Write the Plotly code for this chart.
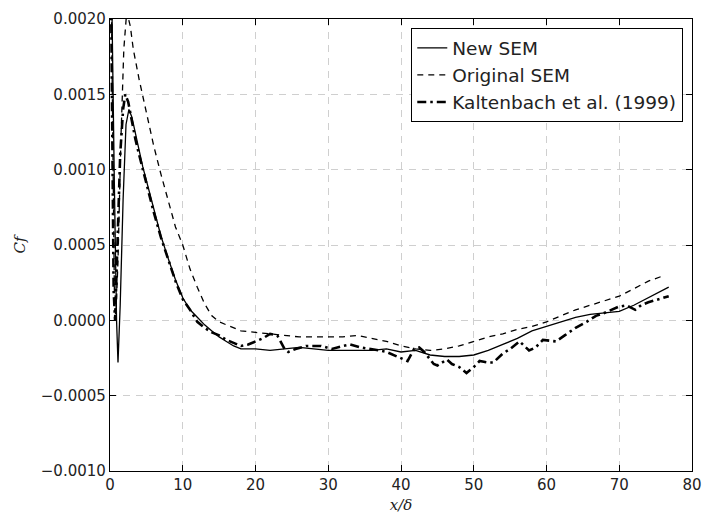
import plotly.graph_objects as go

# ---------------- data ----------------
new_x = [0.0, 0.3, 0.6, 0.9, 1.1, 1.4, 1.8, 2.2, 2.6, 3.0, 3.5, 4.0, 4.5, 5, 6, 7, 8, 9, 10, 11, 12, 13,
         14, 15, 16, 17, 18, 20, 22, 24, 26, 28, 30, 32, 34, 36, 38, 40, 42, 44, 46, 48, 50, 52, 54, 56,
         58, 60, 62, 64, 66, 68, 70, 72, 74, 76.8]
new_cf = [0.0030, 0.0018, 0.0009, 0.0000, -0.00028, 0.0001, 0.0008, 0.0013, 0.0014, 0.00135, 0.00125,
          0.00113, 0.00102, 0.00093, 0.00074, 0.00056, 0.00041, 0.00027, 0.00015, 0.00007, 0.00002,
          -0.00003, -0.00007, -0.00011, -0.00014, -0.00017, -0.00019, -0.00019, -0.0002, -0.00019,
          -0.00018, -0.00019, -0.0002, -0.0002, -0.0002, -0.0002, -0.00019, -0.00021, -0.0002, -0.00023,
          -0.00024, -0.00024, -0.00023, -0.0002, -0.00016, -0.00012, -0.00007, -0.00004, -0.00001,
          0.00002, 0.00004, 0.00005, 0.00006, 0.0001, 0.00015, 0.00022]

orig_x = [0.0, 0.3, 0.6, 0.8, 1.1, 1.5, 1.9, 2.3, 2.8, 3.2, 4, 5, 6, 7, 8, 9, 10, 11, 12, 13, 14, 15, 16,
          17, 18, 20, 22, 24, 26, 28, 30, 32, 34, 36, 38, 40, 42, 44, 46, 48, 50, 52, 54, 56, 58, 60, 62,
          64, 66, 68, 70, 72, 74, 76.3]
orig_cf = [0.0030, 0.0015, 0.0002, 0.0000, 0.0004, 0.0012, 0.0018, 0.00205, 0.00195, 0.0018, 0.0016,
           0.00138, 0.00116, 0.00097, 0.00079, 0.00062, 0.0005, 0.00034, 0.00022, 0.00011, 0.00003,
           -0.00001, -0.00003, -0.00005, -0.00007, -0.00008, -0.00009, -0.0001, -0.00011, -0.00011,
           -0.00011, -0.00011, -0.0001, -0.00012, -0.00014, -0.00017, -0.00019, -0.0002, -0.00019,
           -0.00017, -0.00014, -0.00011, -0.00009, -0.00006, -0.00004, -0.00001, 0.00003, 0.00007,
           0.0001, 0.00013, 0.00016, 0.00021, 0.00026, 0.0003]

kalt_x = [0.0, 0.2, 0.5, 0.7, 1.0, 1.4, 1.8, 2.1, 2.5, 3.0, 3.5, 4, 4.5, 5, 6, 7, 8, 9, 10, 11, 12, 13,
          14, 15, 16, 17, 18, 19, 20, 21, 22, 23, 24, 24.5, 25.5, 27, 29, 30.5, 32, 33, 34.5, 36, 37, 38,
          39, 40, 40.9, 41.8, 42.5, 43.2, 44.5, 45, 46.3, 47, 48, 49, 50, 50.8, 52, 52.7, 54, 55, 56.3,
          57.6, 58.5, 59.5, 61.3, 62.5, 64, 65.5, 66.8, 68, 69.9, 71, 72.2, 73, 74, 76.8]
kalt_cf = [0.0030, 0.0017, 0.0002, 0.0000, 0.0005, 0.0011, 0.0014, 0.0015, 0.00145, 0.00132, 0.0012,
           0.0011, 0.001, 0.0009, 0.00072, 0.00055, 0.0004, 0.00026, 0.00014, 0.00007, -0.00001,
           -0.00005, -0.00008, -0.0001, -0.00013, -0.00015, -0.00017, -0.00016, -0.00014, -0.00012,
           -0.00009, -0.0001, -0.00019, -0.00021, -0.00019, -0.00017, -0.00017, -0.00019, -0.00017,
           -0.00016, -0.00018, -0.00019, -0.0002, -0.00021, -0.00023, -0.00025, -0.00027, -0.00019,
           -0.00018, -0.00021, -0.00029, -0.0003, -0.00026, -0.00029, -0.00031, -0.00035, -0.00031,
           -0.00027, -0.00028, -0.00028, -0.00022, -0.00019, -0.00014, -0.0002, -0.00018, -0.00013,
           -0.00014, -0.0001, -0.00005, -0.00001, 0.00003, 0.00005, 0.00009, 0.0001, 0.00007, 0.0001,
           0.00012, 0.00016]

series_names = ["New SEM", "Original SEM", "Kaltenbach et al. (1999)"]
x_ticks = [0, 10, 20, 30, 40, 50, 60, 70, 80]
y_ticks = [-0.0010, -0.0005, 0.0, 0.0005, 0.0010, 0.0015, 0.0020]

# ---------------- figure ----------------
fig = go.Figure()
fig.add_trace(go.Scatter(x=new_x, y=new_cf, mode="lines", name=series_names[0], legendgroup="a",
                         line=dict(color="black", width=1.3)))
fig.add_trace(go.Scatter(x=orig_x, y=orig_cf, mode="lines", name=series_names[1], legendgroup="b",
                         line=dict(color="black", width=1.3, dash="6px,5px")))
fig.add_trace(go.Scatter(x=kalt_x, y=kalt_cf, mode="lines", name=series_names[2], legendgroup="c",
                         line=dict(color="black", width=2.6, dash="9px,4px,2.5px,4px")))

axis_common = dict(showline=True, linecolor="black", linewidth=1.3, mirror="ticks",
                   ticks="inside", ticklen=6, tickcolor="black", tickwidth=1,
                   showgrid=True, gridcolor="#cfcfcf", gridwidth=1, griddash="7px,6px",
                   zeroline=False, ticklabeloverflow="allow", automargin=False,
                   tickfont=dict(family="DejaVu Sans", size=15, color="#222"))

fig.update_xaxes(range=[0, 80], tickvals=x_ticks, ticktext=[str(v) for v in x_ticks],
                 title=dict(text="<i>x/δ</i>", font=dict(family="DejaVu Serif", size=15, color="#222"),
                            standoff=6),
                 **axis_common)
fig.update_yaxes(range=[-0.0010, 0.0020], tickvals=y_ticks, tickformat=".4f",
                 title=dict(text="<i>Cf</i>", font=dict(family="DejaVu Serif", size=15, color="#222"),
                            standoff=11),
                 **axis_common)

fig.update_layout(
    width=704, height=514,
    margin=dict(l=110, r=12, t=19, b=43),
    paper_bgcolor="white", plot_bgcolor="white",
    showlegend=True,
    legend=dict(x=0.9845, y=0.98, xanchor="right", yanchor="top",
                bgcolor="white", bordercolor="black", borderwidth=1.3,
                font=dict(family="DejaVu Sans", size=18.5, color="#222"),
                tracegroupgap=0),
)

fig.write_html("out.html")
